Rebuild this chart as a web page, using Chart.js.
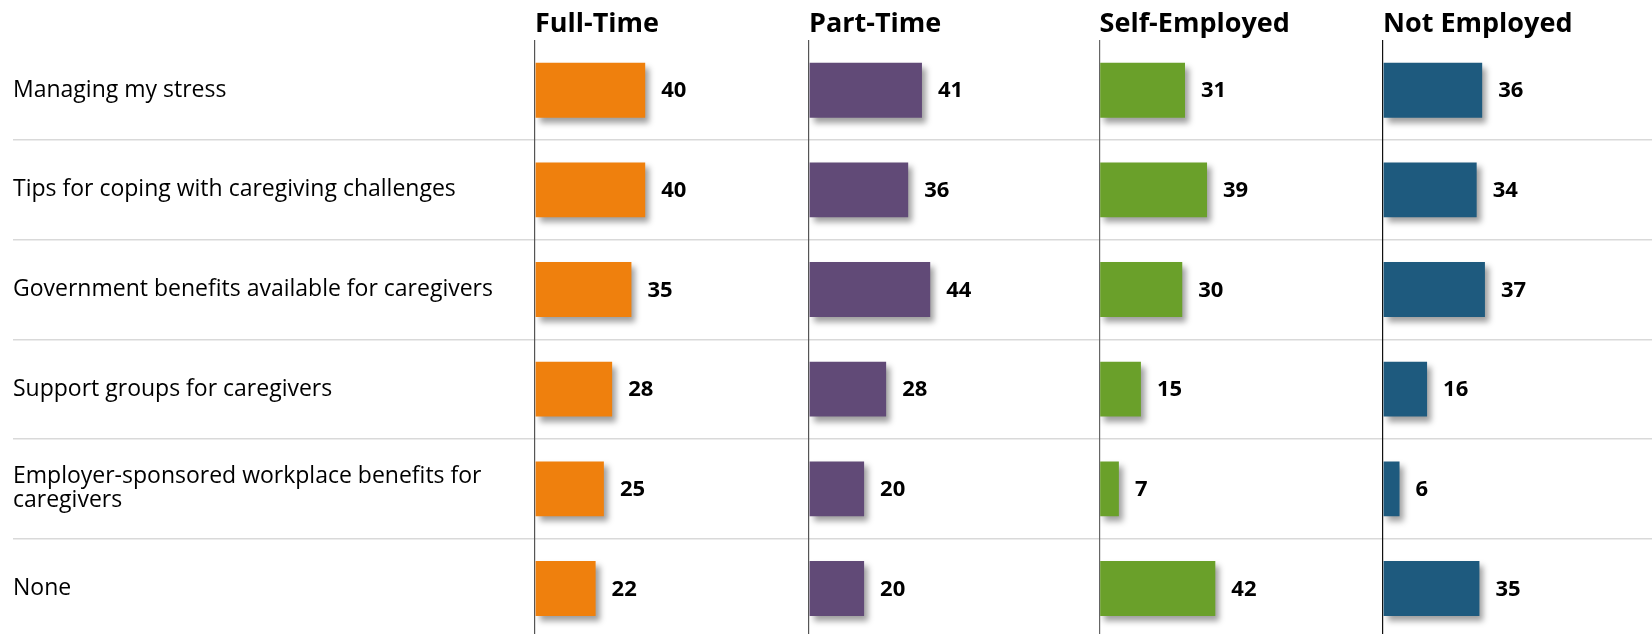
<!DOCTYPE html>
<html>
<head>
<meta charset="utf-8">
<script src="https://cdn.jsdelivr.net/npm/chart.js@4.4.1/dist/chart.umd.min.js"></script>
<style>
  html, body { margin: 0; padding: 0; background: #fff; overflow: hidden; }
  #wrap { position: relative; width: 1652px; height: 640px; }
</style>
</head>
<body>
<div id="wrap"><canvas id="chart" width="1652" height="640"></canvas></div>
<script>
  // ---- Data ------------------------------------------------
  const CATEGORIES = [
    'Managing my stress',
    'Tips for coping with caregiving challenges',
    'Government benefits available for caregivers',
    'Support groups for caregivers',
    ['Employer-sponsored workplace benefits for', 'caregivers'],
    'None',
  ];
  const GROUPS = ['Full-Time', 'Part-Time', 'Self-Employed', 'Not Employed'];
  const FULL_TIME = [40, 40, 35, 28, 25, 22];
  const PART_TIME = [41, 36, 44, 28, 20, 20];
  const SELF_EMPLOYED = [31, 39, 30, 15, 7, 42];
  const NOT_EMPLOYED = [36, 34, 37, 16, 6, 35];
  const SERIES = [FULL_TIME, PART_TIME, SELF_EMPLOYED, NOT_EMPLOYED];

  // ---- Layout / style --------------------------------------
  const COLORS = ['#EF800D', '#614A77', '#6AA02A', '#1E5A7E'];
  const AXIS_COLORS = ['#555555', '#555555', '#666666', '#111111'];
  const PX_PER_UNIT = 2.755;
  const LABEL_COL = 522;                    // width of the category label column
  const PANEL_W = [274, 290.6, 283.4, 269]; // width of each panel
  const FONT = '"Open Sans", Lato, sans-serif';

  const headerTitle = (text) => ({
    display: true,
    text,
    align: 'start',
    color: '#000',
    padding: { top: 8, bottom: 0 },
    font: { family: FONT, size: 27, weight: 'bold', lineHeight: 1.2 },
  });

  // one x scale per panel, laid side by side in a single stack
  const scales = {
    y: {
      type: 'category',
      position: 'left',
      offset: true,
      border: { display: false },
      grid: {
        offset: true,
        drawTicks: false,
        lineWidth: 1.5,
        color: (ctx) => (ctx.index > 0 ? '#d9d9d9' : 'transparent'),
      },
      ticks: {
        mirror: true,
        padding: 0,
        color: '#000',
        font: { family: FONT, size: 23, lineHeight: 1.05 },
      },
      afterFit(scale) {
        // bars are offset, label overhang needs no room
        scale.paddingTop = 0;
        scale.paddingBottom = 0;
      },
    },
    xLabels: {
      type: 'linear',
      position: 'top',
      stack: 'panels',
      stackWeight: LABEL_COL,
      weight: 10,
      min: 0,
      max: 1,
      border: { display: false },
      grid: { display: false, drawTicks: false },
      ticks: { display: false },
      title: headerTitle(''),
    },
  };
  GROUPS.forEach((g, i) => {
    scales['x' + i] = {
      type: 'linear',
      position: 'top',
      stack: 'panels',
      stackWeight: PANEL_W[i],
      weight: 9 - i,
      min: 0,
      max: PANEL_W[i] / PX_PER_UNIT,
      border: { display: false },
      grid: {
        drawTicks: false,
        lineWidth: 1.2,
        color: (ctx) => (ctx.tick && ctx.tick.value === 0 ? AXIS_COLORS[i] : 'transparent'),
      },
      ticks: { display: false },
      title: headerTitle(g),
    };
  });

  const datasets = GROUPS.map((g, i) => ({
    label: g,
    data: SERIES[i],
    xAxisID: 'x' + i,
    backgroundColor: COLORS[i],
    borderWidth: 0,
    grouped: false,
    categoryPercentage: 1,
    barPercentage: 0.55,
  }));

  // drop shadow under bars, value labels after
  const barDecor = {
    id: 'barDecor',
    beforeDatasetsDraw(chart) {
      const ctx = chart.ctx;
      ctx.save();
      ctx.shadowColor = 'rgba(0,0,0,0.38)';
      ctx.shadowBlur = 6;
      ctx.shadowOffsetX = 4;
      ctx.shadowOffsetY = 5;
    },
    afterDatasetsDraw(chart) {
      const ctx = chart.ctx;
      ctx.restore();
      ctx.save();
      ctx.fillStyle = '#000';
      ctx.font = 'bold 22px ' + FONT;
      ctx.textAlign = 'left';
      ctx.textBaseline = 'middle';
      chart.data.datasets.forEach((ds, di) => {
        chart.getDatasetMeta(di).data.forEach((bar, j) => {
          ctx.fillText(String(ds.data[j]), bar.x + 16, bar.y + 1);
        });
      });
      ctx.restore();
    },
  };

  new Chart(document.getElementById('chart'), {
    type: 'bar',
    data: { labels: CATEGORIES, datasets },
    options: {
      indexAxis: 'y',
      responsive: false,
      animation: false,
      layout: { padding: { left: 13, right: 0, top: 0, bottom: 1.7 } },
      scales,
      plugins: {
        legend: { display: false },
        tooltip: { enabled: false },
      },
    },
    plugins: [barDecor],
  });
</script>
</body>
</html>
